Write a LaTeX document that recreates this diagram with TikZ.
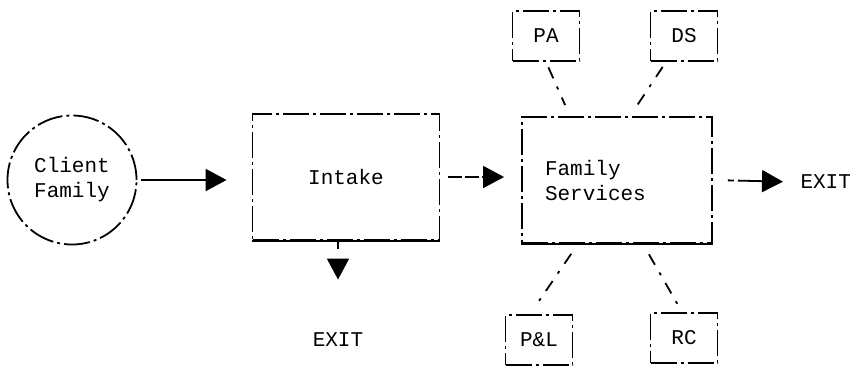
\documentclass[tikz,border=0pt]{standalone}
\usepackage{fontspec}
\setmonofont{Liberation Mono}
\usetikzlibrary{arrows.meta}

\begin{document}
\begin{tikzpicture}[
  x=1pt, y=-1pt,
  >={Triangle[length=21pt,width=22pt]},
  every node/.style={font=\ttfamily\fontsize{21}{25}\selectfont},
  worn/.style={line width=1.8pt, dash pattern=on 26pt off 4pt on 3pt off 4pt},
  client/.style={circle, draw, worn, minimum size=129pt, inner sep=0pt, align=center},
  stage/.style={draw, worn, minimum height=126pt, align=left},
  unit/.style={draw, worn, minimum width=67pt, minimum height=50pt, inner sep=2pt},
  flow/.style={->, line width=1.8pt},
  spoke/.style={line width=1.8pt, dash pattern=on 12pt off 9pt on 3pt off 9pt}
]
\useasboundingbox (0,0) rectangle (851,367);

\node[client] (client) at (72,180) {Client\\Family};
\node[stage, minimum width=187pt] (intake) at (346,177) {Intake};
\node[stage, minimum width=190pt, text width=144pt, inner xsep=23pt] (famserv) at (617,180) {Family\\Services};
\node[unit] (pa) at (546,36) {PA};
\node[unit] (ds) at (684,36) {DS};
\node[unit] (pl) at (539,340) {P\&L};
\node[unit] (rc) at (684,338) {RC};
\node[anchor=west] (exitr) at (797,182) {EXIT};
\node (exitb) at (338,340) {EXIT};

\draw[line width=1.8pt] (intake.south west) -- (intake.south east);
\draw[line width=1.8pt] (famserv.south west) -- (famserv.south east);

\draw[flow, shorten <=4pt, shorten >=25pt] (client.east) -- (client.east -| intake.west);
\draw[flow, dash pattern=on 14pt off 3pt, shorten <=8pt, shorten >=17pt] (intake.east) -- (intake.east -| famserv.west);
\draw[flow, dash pattern=on 6pt off 4pt on 30pt off 1pt, shorten <=15pt, shorten >=14pt] (famserv.east) -- (exitr.west);
\draw[flow, dash pattern=on 8pt off 10pt on 2pt off 6pt, shorten >=50pt] ([xshift=-8pt]intake.south) -- (exitb.north);

\draw[spoke, shorten <=6pt, shorten >=12pt] (pa.south) -- ([xshift=-47pt]famserv.north);
\draw[spoke, shorten <=6pt, shorten >=12pt] ([xshift=-18pt]ds.south) -- ([xshift=13pt]famserv.north);
\draw[spoke, shorten <=12pt, shorten >=14pt] ([xshift=-39pt]famserv.south) -- ([xshift=-9pt]pl.north);
\draw[spoke, shorten <=12pt, shorten >=8pt] ([xshift=26pt]famserv.south) -- ([xshift=-2pt]rc.north);
\end{tikzpicture}
\end{document}
